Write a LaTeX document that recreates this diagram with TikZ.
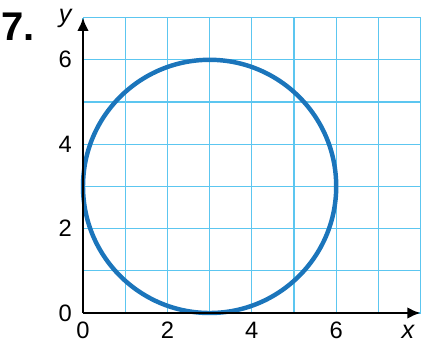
\documentclass[tikz,border=0pt]{standalone}
\usepackage{fontspec}
\setmainfont{Liberation Sans}
\usetikzlibrary{arrows.meta}
\definecolor{gridblue}{HTML}{5CC6F0}
\definecolor{circblue}{HTML}{1B75BB}
\begin{document}
\begin{tikzpicture}[x=1cm,y=1cm,
  gridline/.style={draw=gridblue,line width=0.85pt},
  axisline/.style={draw=black,line width=2pt,-{Latex[length=9pt,width=8pt]}},
  ticklab/.style={font=\fontsize{16}{18}\selectfont,inner sep=0pt},
  axlab/.style={font=\fontsize{17}{19}\selectfont\itshape,inner sep=0pt}]
\useasboundingbox (-1.967,-0.711) rectangle (8.033,7.417);
\draw[gridline] (0,0) grid (8,7);
\draw[draw=circblue,line width=3pt] (3,3) circle (3);
\coordinate (O) at (0,0);
\coordinate (xend) at (8.0,0);
\coordinate (yend) at (0,7.0);
\draw[axisline] (O) -- (xend);
\draw[axisline] (O) -- (yend);
\foreach \v in {0,2,4,6} {
  \node[ticklab,anchor=base] (xl\v) at (\v,-0.6) {\v};
  \node[ticklab,anchor=base east] (yl\v) at (-0.26,\v-0.19) {\v};
}
\node[axlab,anchor=base] (xlab) at (7.7,-0.6) {x};
\node[axlab,anchor=base] (ylab) at (-0.42,6.88) {y};
\node[font=\fontsize{27}{30}\selectfont\bfseries,anchor=base west,inner sep=0pt] (num) at (-1.95,6.45) {7.};
\end{tikzpicture}
\end{document}
